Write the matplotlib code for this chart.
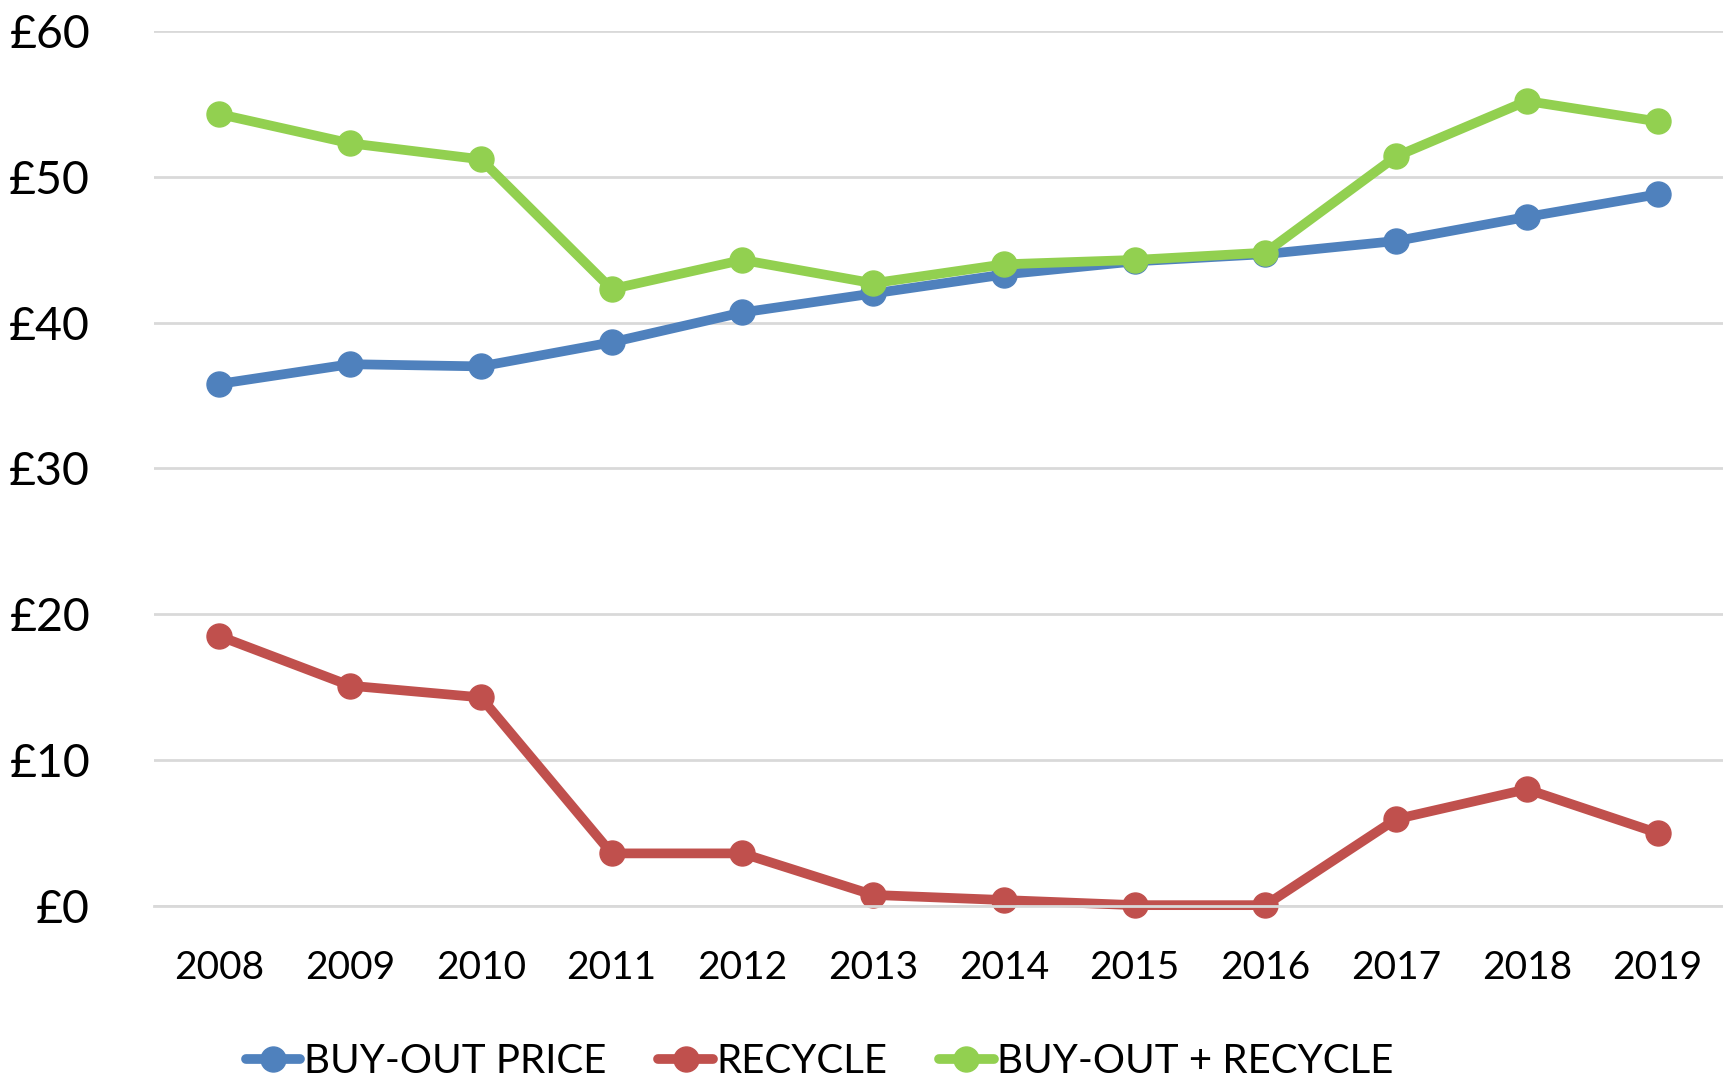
import matplotlib
matplotlib.use("Agg")
import matplotlib.pyplot as plt
from matplotlib.ticker import FuncFormatter

plt.rcParams['font.family'] = ['Lato', 'DejaVu Sans']

years = ['2008', '2009', '2010', '2011', '2012', '2013', '2014', '2015', '2016', '2017', '2018', '2019']
buyout = [35.8, 37.15, 37.0, 38.65, 40.7, 42.0, 43.3, 44.2, 44.7, 45.6, 47.25, 48.8]
recycle = [18.5, 15.1, 14.3, 3.6, 3.6, 0.75, 0.4, 0.05, 0.05, 5.95, 8.0, 5.0]
combined = [54.3, 52.3, 51.2, 42.3, 44.3, 42.7, 44.0, 44.3, 44.8, 51.4, 55.2, 53.8]

fig = plt.figure(figsize=(17.23, 10.81), dpi=100)
ax = fig.add_axes([0.0894, 0.162, 0.9106, 0.8093])

x = range(len(years))
style = dict(lw=7, marker='o', markersize=18, solid_capstyle='round', clip_on=False)
ax.plot(x, buyout, color='#4F81BD', label='BUY-OUT PRICE', **style)
ax.plot(x, recycle, color='#C0504D', label='RECYCLE', **style)
ax.plot(x, combined, color='#92D050', label='BUY-OUT + RECYCLE', **style)

ax.set_xlim(-0.5, len(years) - 0.5)
ax.set_ylim(0, 60)
ax.set_yticks(range(0, 61, 10))
ax.yaxis.set_major_formatter(FuncFormatter(lambda v, p: '£%d' % v))
ax.set_xticks(list(x))
ax.set_xticklabels(years)
ax.tick_params(axis='y', length=0, pad=46, labelsize=33.5)
ax.tick_params(axis='x', length=0, pad=32, labelsize=28)
ax.grid(axis='y', color='#D9D9D9', lw=2)
ax.set_axisbelow(True)
for s in ax.spines.values():
    s.set_visible(False)
ax.spines['bottom'].set_visible(True)
ax.spines['bottom'].set_color('#D9D9D9')
ax.spines['bottom'].set_linewidth(2)

fig.legend(loc='center', bbox_to_anchor=(0.4757, 0.018), ncol=3, frameon=False,
           fontsize=29, handlelength=1.35, handletextpad=0.08, columnspacing=1.3,
           markerscale=1.0)

fig.savefig('out.png', dpi=100)
